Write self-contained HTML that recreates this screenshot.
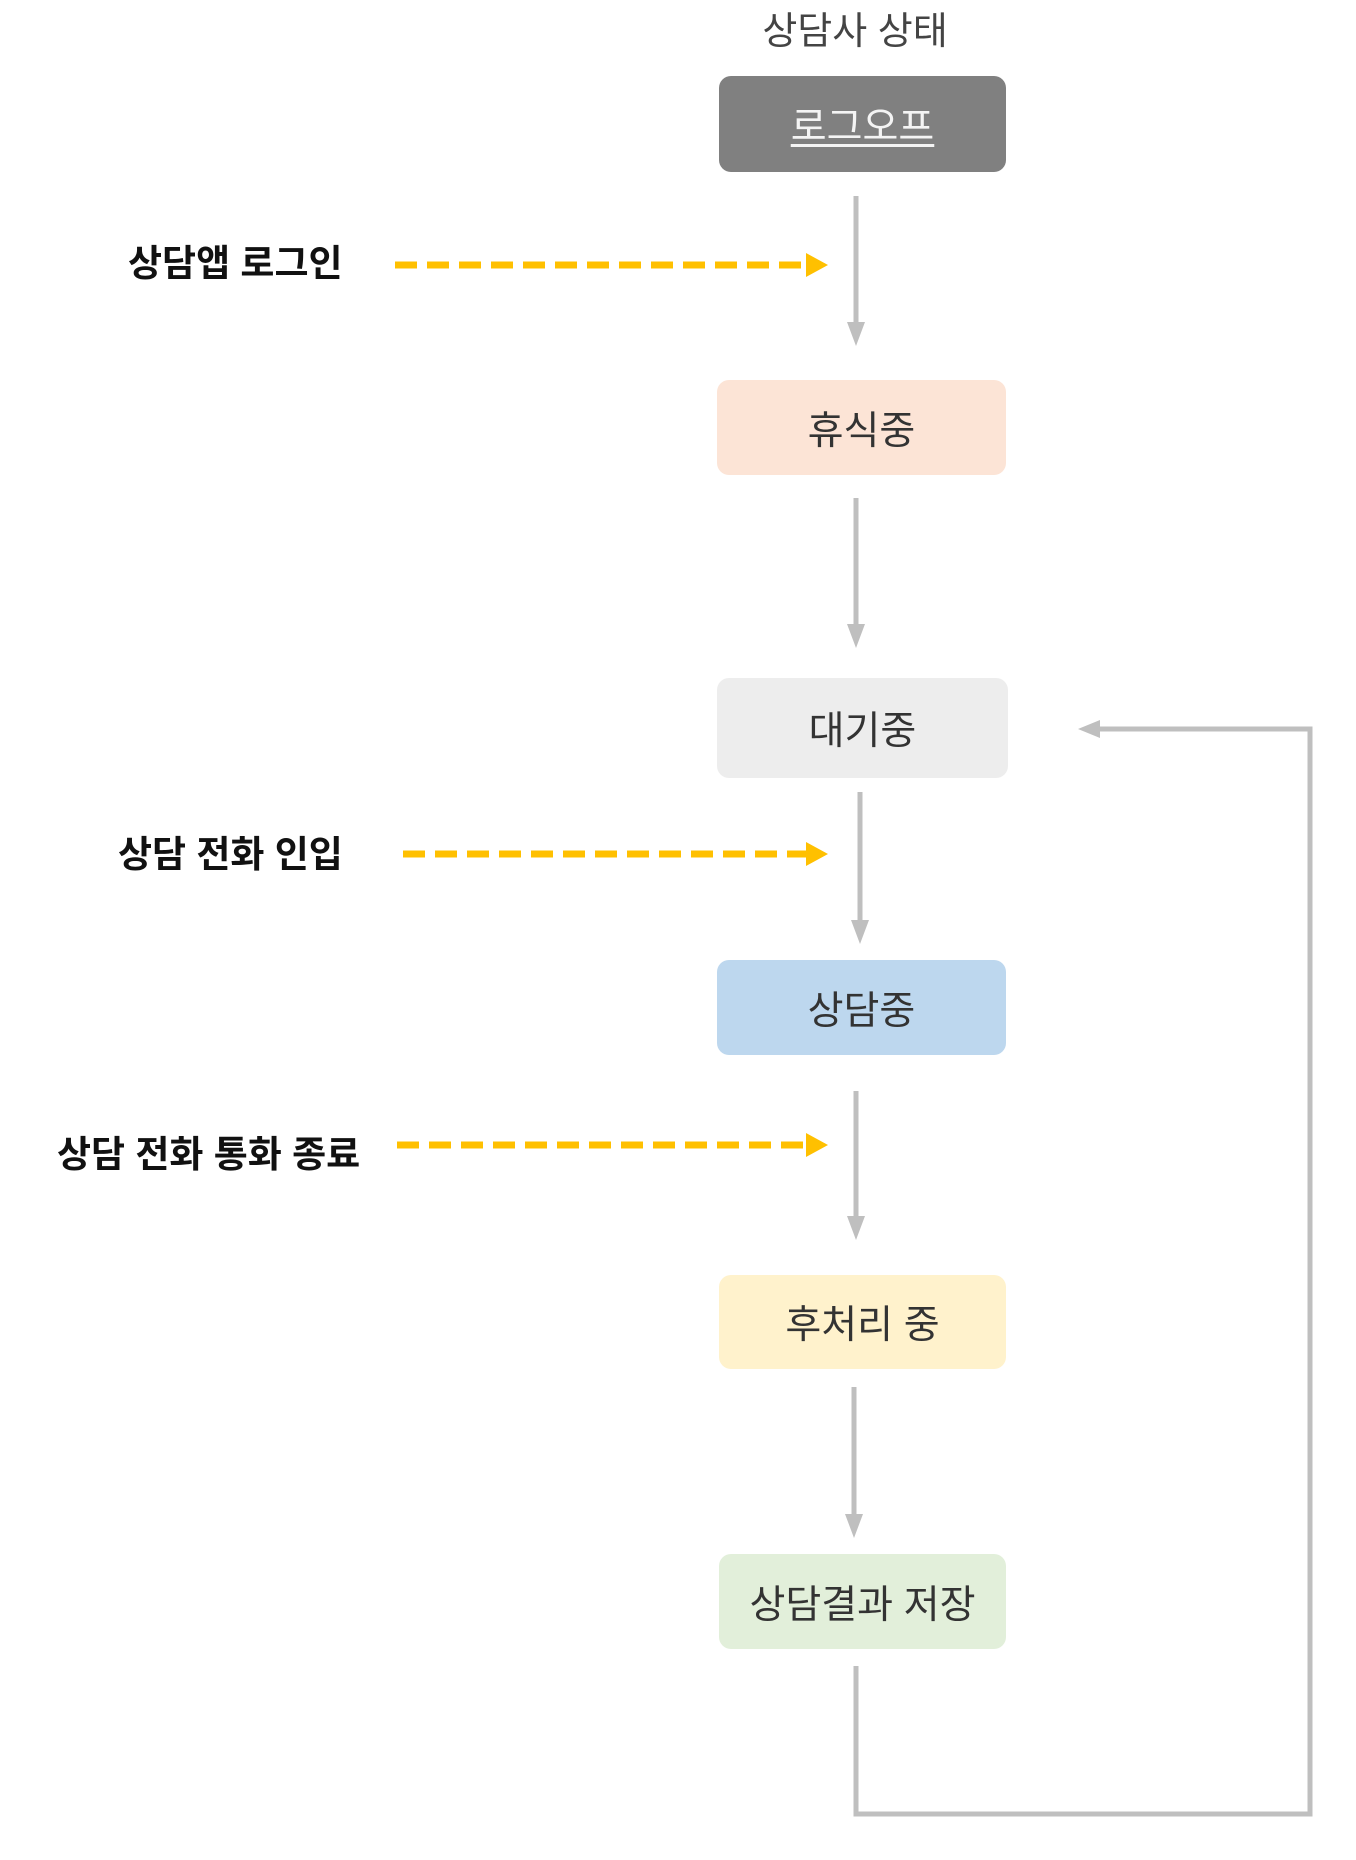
<!DOCTYPE html>
<html><head><meta charset="utf-8"><style>
html,body{margin:0;padding:0;background:#fff;}
body{width:1356px;height:1860px;position:relative;overflow:hidden;font-family:"Liberation Sans","Noto Sans CJK KR",sans-serif;}
.box{position:absolute;border-radius:12px;display:flex;align-items:center;justify-content:center;font-size:39px;color:#333;}
.lbl{position:absolute;font-size:37px;font-weight:bold;color:#111;white-space:nowrap;line-height:44px;}
</style></head><body>
<div style="position:absolute;left:735px;top:8px;width:240px;text-align:center;font-size:38px;color:#444;line-height:48px;">상담사 상태</div>
<div class="box" style="left:719px;top:76px;width:287px;height:96px;background:#808080;color:#f4f4f4;"><span style="text-decoration:underline;text-underline-offset:4px;">로그오프</span></div>
<div class="box" style="left:717px;top:380px;width:289px;height:95px;background:#FCE4D6;">휴식중</div>
<div class="box" style="left:717px;top:678px;width:291px;height:100px;background:#EDEDED;">대기중</div>
<div class="box" style="left:717px;top:960px;width:289px;height:95px;background:#BDD7EE;">상담중</div>
<div class="box" style="left:719px;top:1275px;width:287px;height:94px;background:#FFF2CC;">후처리 중</div>
<div class="box" style="left:719px;top:1554px;width:287px;height:95px;background:#E2EFDA;">상담결과 저장</div>
<div class="lbl" style="left:128px;top:242px;">상담앱 로그인</div>
<div class="lbl" style="left:118px;top:833px;">상담 전화 인입</div>
<div class="lbl" style="left:57px;top:1133px;">상담 전화 통화 종료</div>
<svg width="1356" height="1860" style="position:absolute;left:0;top:0">
<g stroke="#BFBFBF" stroke-width="5" fill="none">
<line x1="856" y1="196" x2="856" y2="330"/>
<line x1="856" y1="498" x2="856" y2="632"/>
<line x1="860" y1="792" x2="860" y2="928"/>
<line x1="856" y1="1091" x2="856" y2="1225"/>
<line x1="854" y1="1387" x2="854" y2="1522"/>
<polyline points="856,1666 856,1814 1310,1814 1310,729 1094,729"/>
</g>
<g fill="#BFBFBF">
<polygon points="847,322 865,322 856,346"/>
<polygon points="847,624 865,624 856,648"/>
<polygon points="851,920 869,920 860,944"/>
<polygon points="847,1216 865,1216 856,1240"/>
<polygon points="845,1514 863,1514 854,1538"/>
<polygon points="1100,720 1100,738 1078,729"/>
</g>
<g stroke="#FFC000" stroke-width="7" stroke-dasharray="22,10" fill="none">
<line x1="395" y1="265" x2="808" y2="265"/>
<line x1="403" y1="854" x2="808" y2="854"/>
<line x1="397" y1="1145" x2="808" y2="1145"/>
</g>
<g fill="#FFC000">
<polygon points="806,253 828,265 806,277"/>
<polygon points="806,842 828,854 806,866"/>
<polygon points="806,1133 828,1145 806,1157"/>
</g>
</svg>
</body></html>
